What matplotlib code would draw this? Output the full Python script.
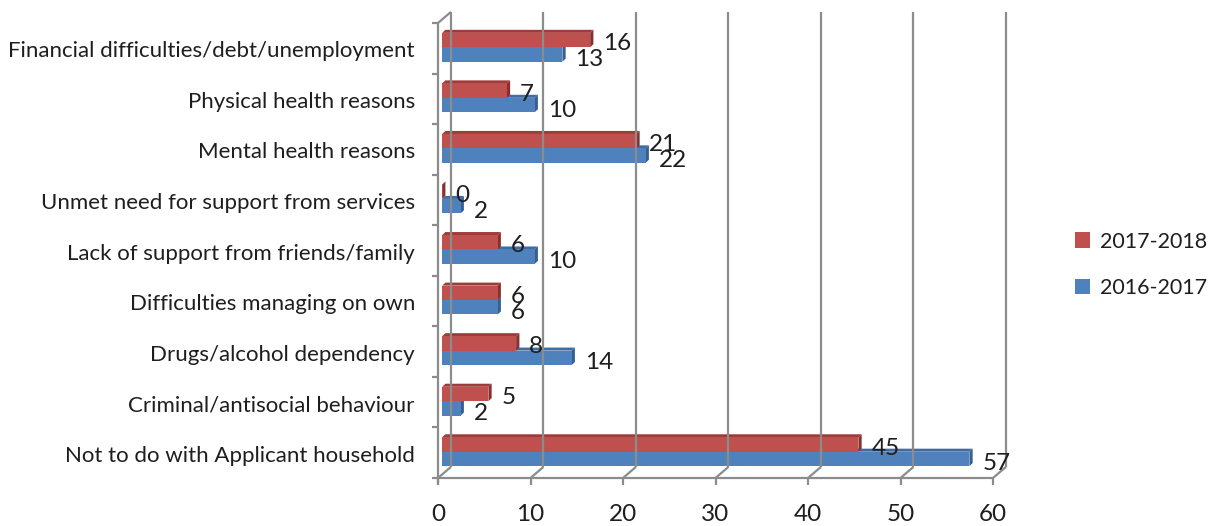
import matplotlib.pyplot as plt
from matplotlib.patches import Polygon, Rectangle, Patch

categories = [
    'Not to do with Applicant household',
    'Criminal/antisocial behaviour',
    'Drugs/alcohol dependency',
    'Difficulties managing on own',
    'Lack of support from friends/family',
    'Unmet need for support from services',
    'Mental health reasons',
    'Physical health reasons',
    'Financial difficulties/debt/unemployment',
]
values_2017_18 = [45, 5, 8, 6, 6, 0, 21, 7, 16]
values_2016_17 = [57, 2, 14, 6, 10, 2, 22, 10, 13]
x_ticks = [0, 10, 20, 30, 40, 50, 60]

# (front, top, side) shades for the pseudo-3D bars
RED = ('#C0504D', '#9E3C39', '#8A2F2C')
BLUE = ('#4F81BD', '#3F6CA3', '#365F91')
GRID = '#8C8C8C'
TEXT = '#1E1E1E'

BACK_DX, BACK_DY = 1.4, 0.22      # offset of the back wall
DEPTH_DX, DEPTH_DY = 0.35, 0.06   # bar depth
BAR_X0 = 0.45
BAR_H = 0.285

plt.rcParams['font.family'] = ['Lato', 'DejaVu Sans']

fig = plt.figure(figsize=(12.16, 5.26), dpi=100)
ax = fig.add_axes([438 / 1216, 1 - 478 / 526, 555 / 1216, 455 / 526])
ax.set_xlim(0, 60)
ax.set_ylim(-0.5, len(categories) - 0.5)
ax.axis('off')

top = len(categories) - 0.5
bottom = -0.5


def line(xs, ys):
    ax.plot(xs, ys, color=GRID, lw=1.6, clip_on=False, solid_capstyle='butt')


# back wall gridlines
for v in x_ticks:
    line([v + BACK_DX, v + BACK_DX], [bottom + BACK_DY, top + BACK_DY])

# left wall and floor edges
line([0, 0], [bottom - 0.1, top])
line([0, BACK_DX], [top, top + BACK_DY])
line([0, 60], [bottom, bottom])
for v in x_ticks:
    line([v, v], [bottom, bottom - 0.14])
    line([v, v + BACK_DX], [bottom, bottom + BACK_DY])
for k in range(len(categories) + 1):
    line([-0.65, 0], [k - 0.5, k - 0.5])


def bar3d(v, y0, shades):
    front, topc, side = shades
    x0, x1 = BAR_X0, BAR_X0 + v
    y1 = y0 + BAR_H
    ax.add_patch(Polygon([(x0, y1), (x1, y1), (x1 + DEPTH_DX, y1 + DEPTH_DY),
                          (x0 + DEPTH_DX, y1 + DEPTH_DY)],
                         closed=True, fc=topc, ec='none', clip_on=False))
    ax.add_patch(Polygon([(x1, y0), (x1 + DEPTH_DX, y0 + DEPTH_DY),
                          (x1 + DEPTH_DX, y1 + DEPTH_DY), (x1, y1)],
                         closed=True, fc=side, ec='none', clip_on=False))
    ax.add_patch(Rectangle((x0, y0), v, BAR_H, fc=front, ec='none',
                           clip_on=False))


for i, (red_v, blue_v) in enumerate(zip(values_2017_18, values_2016_17)):
    blue_y0 = i - 0.265
    red_y0 = i + 0.02
    bar3d(blue_v, blue_y0, BLUE)
    bar3d(red_v, red_y0, RED)
    ax.text(BAR_X0 + red_v + 1.4, red_y0 + BAR_H / 2 - 0.07, str(red_v),
            ha='left', va='center', fontsize=17.5, color=TEXT)
    ax.text(BAR_X0 + blue_v + 1.4, blue_y0 + BAR_H / 2 - 0.1, str(blue_v),
            ha='left', va='center', fontsize=17.5, color=TEXT)
    ax.text(-2.5, i - 0.06, categories[i], ha='right', va='center',
            fontsize=16, color=TEXT)

for v in x_ticks:
    ax.text(v, bottom - 0.72, str(v), ha='center', va='center',
            fontsize=17.5, color=TEXT)

handles = [Patch(fc=RED[0], label='2017-2018'),
           Patch(fc=BLUE[0], label='2016-2017')]
fig.legend(handles=handles, loc='center left',
           bbox_to_anchor=(1056 / 1216, 1 - 265 / 526),
           frameon=False, fontsize=15.5, handlelength=0.7, handleheight=0.7,
           handletextpad=0.45, labelspacing=1.25, labelcolor=TEXT)

fig.savefig('out.png', dpi=100)
